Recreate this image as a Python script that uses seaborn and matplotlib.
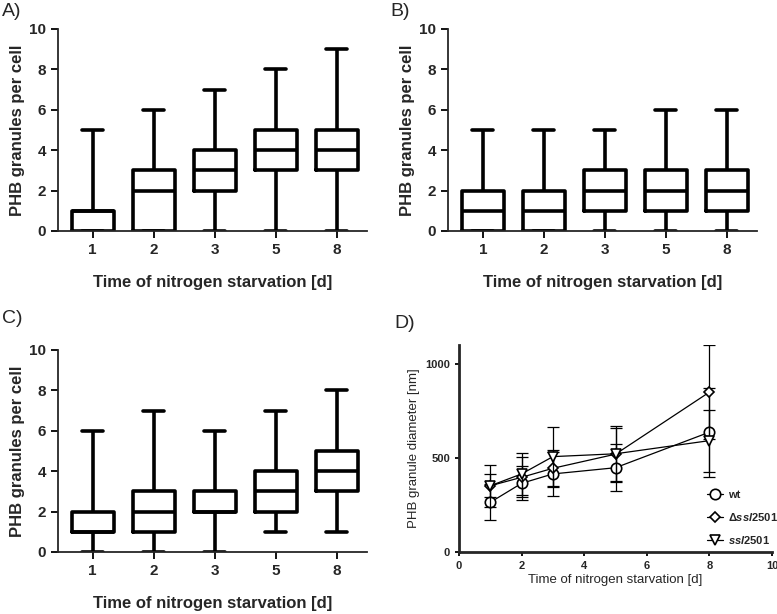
"""PHB granule counts and diameters during nitrogen starvation"""

import numpy as np
import pandas as pd
import matplotlib
matplotlib.use("Agg")
import matplotlib.pyplot as plt
import seaborn as sns

sns.set_theme(style="ticks")
plt.rcParams.update({
    "font.family": ["Liberation Sans", "DejaVu Sans"],
    "mathtext.fontset": "custom",
    "mathtext.rm": "Liberation Sans:bold",
    "mathtext.it": "Liberation Sans:italic:bold",
    "mathtext.bf": "Liberation Sans:bold",
    "axes.linewidth": 1.3,
    "xtick.major.width": 1.3,
    "ytick.major.width": 1.3,
})

# granules per cell: five numbers per day = min, q1, median, q3, max
days = ["1", "2", "3", "5", "8"]
counts_a = [[0, 0, 1, 1, 5], [0, 0, 2, 3, 6], [0, 2, 3, 4, 7], [0, 3, 4, 5, 8], [0, 3, 4, 5, 9]]
counts_b = [[0, 0, 1, 2, 5], [0, 0, 1, 2, 5], [0, 1, 2, 3, 5], [0, 1, 2, 3, 6], [0, 1, 2, 3, 6]]
counts_c = [[0, 1, 1, 2, 6], [0, 1, 2, 3, 7], [0, 2, 2, 3, 6], [1, 2, 3, 4, 7], [1, 3, 4, 5, 8]]

# granule diameter (mean and sd)
time_d = [1, 2, 3, 5, 8]
wt_mean = [264, 365, 415, 448, 637]
wt_sd = [95, 90, 118, 125, 237]
del_mean = [352, 397, 445, 520, 850]
del_sd = [60, 107, 95, 140, 250]
ssl_mean = [352, 415, 507, 522, 592]
ssl_sd = [111, 113, 160, 150, 165]


def to_long(counts):
    rows = []
    for d, vals in zip(days, counts):
        for v in vals:
            rows.append({"day": d, "n": v})
    return pd.DataFrame(rows)


def box_panel(ax, counts):
    df = to_long(counts)
    sns.boxplot(data=df, x="day", y="n", order=days, whis=(0, 100), fill=False,
                color="black", linewidth=2.6, width=0.69, ax=ax)
    ax.set_ylim(0, 10)
    ax.set_xlim(-0.57, 4.5)
    ax.set_yticks(np.arange(0, 11, 2))
    ax.set_xlabel("Time of nitrogen starvation [d]", fontsize=12, fontweight="bold", labelpad=13)
    ax.set_ylabel("PHB granules per cell", fontsize=12, fontweight="bold", labelpad=3)
    ax.tick_params(labelsize=11, length=5, color="black")
    for lab in ax.get_xticklabels() + ax.get_yticklabels():
        lab.set_fontweight("bold")
    sns.despine(ax=ax)


fig = plt.figure(figsize=(7.77, 6.14), dpi=100)
ax_a = fig.add_axes([0.0746, 0.6238, 0.398, 0.329])
ax_b = fig.add_axes([0.5766, 0.6238, 0.398, 0.329])
ax_c = fig.add_axes([0.0746, 0.101, 0.398, 0.329])
ax_d = fig.add_axes([0.5907, 0.101, 0.403, 0.337])

box_panel(ax_a, counts_a)
box_panel(ax_b, counts_b)
box_panel(ax_c, counts_c)

# panel D
series = [
    ("wt", wt_mean, wt_sd, "o"),
    (r"$\Delta\mathit{ssl2501}$", del_mean, del_sd, "D"),
    (r"$\mathit{ssl2501}$", ssl_mean, ssl_sd, "v"),
]
for label, mean, sd, mk in series:
    ax_d.errorbar(time_d, mean, yerr=sd, fmt="none", ecolor="black", elinewidth=0.9,
                  capsize=4, capthick=0.9)
    sns.lineplot(x=time_d, y=mean, ax=ax_d, color="black", linewidth=0.9, marker=mk,
                 markersize=7.5 if mk != "D" else 5.5, markerfacecolor="white",
                 markeredgecolor="black", markeredgewidth=1.2, label=label)

ax_d.set_xlim(0, 10)
ax_d.set_ylim(0, 1100)
ax_d.set_xticks(np.arange(0, 11, 2))
ax_d.set_yticks([0, 500, 1000])
ax_d.set_xlabel("Time of nitrogen starvation [d]", fontsize=9.5, labelpad=2)
ax_d.set_ylabel("PHB granule diameter [nm]", fontsize=9.5, labelpad=4)
ax_d.tick_params(labelsize=8, length=3, color="black")
for lab in ax_d.get_xticklabels() + ax_d.get_yticklabels():
    lab.set_fontweight("bold")
for sp in ["left", "bottom"]:
    ax_d.spines[sp].set_linewidth(2)
sns.despine(ax=ax_d)
leg = ax_d.legend(loc="upper left", bbox_to_anchor=(0.76, 0.35), frameon=False,
                  fontsize=8, handlelength=1.4, labelspacing=1.0, handletextpad=0.5)
for t in leg.get_texts():
    t.set_fontweight("bold")

for txt, x, y in [("A)", 0.002, 0.995), ("B)", 0.502, 0.995), ("C)", 0.002, 0.495), ("D)", 0.508, 0.487)]:
    fig.text(x, y, txt, fontsize=14, ha="left", va="top")

fig.savefig("out.png", dpi=100)
